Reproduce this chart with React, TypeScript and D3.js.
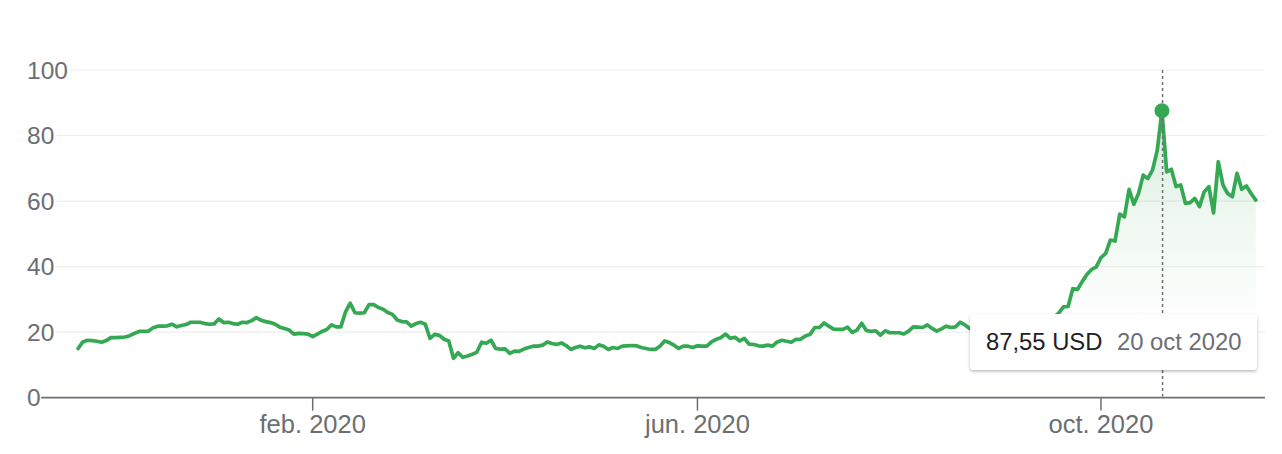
import React from "react";
import * as d3 from "d3";

// ---- data ----
const startDay = "2019-11-19";
const endDay = "2020-11-17";
const marketHolidays = [
  "2019-11-28", "2019-12-25", "2020-01-01", "2020-01-20", "2020-02-17",
  "2020-04-10", "2020-05-25", "2020-07-03", "2020-09-07",
];

const closePrices = [
  15.0, 17.0, 17.5, 17.4, 17.2, 16.9, 17.4, 18.3, 18.3, 18.4,
  18.5, 18.9, 19.6, 20.2, 20.2, 20.3, 21.3, 21.8, 21.8, 21.9,
  22.4, 21.6, 22.0, 22.3, 23.0, 23.0, 23.0, 22.6, 22.4, 22.5,
  24.0, 22.9, 23.0, 22.6, 22.4, 23.0, 22.9, 23.5, 24.4, 23.6,
  23.2, 22.9, 22.4, 21.5, 21.1, 20.6, 19.4, 19.6, 19.5, 19.4,
  18.6, 19.4, 20.2, 20.8, 22.2, 21.6, 21.6, 26.2, 28.8, 25.9,
  25.8, 25.9, 28.4, 28.4, 27.5, 27.0, 26.0, 25.4, 23.7, 23.2,
  23.1, 21.8, 22.6, 23.0, 22.4, 18.1, 19.3, 19.0, 17.8, 17.3,
  12.0, 13.7, 12.3, 12.7, 13.2, 13.9, 16.9, 16.6, 17.5, 15.0,
  14.8, 14.9, 13.5, 14.2, 14.1, 14.8, 15.3, 15.7, 15.7, 16.0,
  17.0, 16.5, 16.2, 16.7, 15.9, 14.7, 15.3, 15.7, 15.2, 15.5,
  15.0, 16.1, 15.7, 14.7, 15.3, 15.0, 15.7, 15.8, 15.9, 15.8,
  15.3, 15.0, 14.7, 14.7, 15.7, 17.3, 16.8, 16.0, 15.0, 15.7,
  15.7, 15.3, 15.8, 15.7, 15.7, 17.0, 17.8, 18.3, 19.4, 18.1,
  18.4, 17.3, 18.1, 16.3, 16.2, 15.8, 15.7, 16.0, 15.7, 17.0,
  17.5, 17.2, 16.9, 17.8, 17.8, 18.8, 19.3, 21.4, 21.4, 22.8,
  21.8, 20.9, 20.8, 20.8, 21.5, 19.9, 20.6, 22.7, 20.5, 20.2,
  20.4, 19.1, 20.4, 19.8, 19.8, 19.8, 19.4, 20.3, 21.6, 21.5,
  21.4, 22.2, 21.1, 20.3, 21.0, 21.8, 21.4, 21.6, 23.0, 22.2,
  21.1, 21.5, 22.0, 21.3, 21.8, 22.4, 21.9, 22.6, 23.1, 22.5,
  22.8, 23.4, 22.9, 23.6, 22.8, 22.4, 23.0, 23.8, 24.6, 25.8,
  27.7, 27.8, 33.3, 33.0, 35.4, 37.6, 39.1, 39.9, 42.7, 44.0,
  48.1, 47.8, 56.0, 55.2, 63.6, 59.0, 62.3, 67.9, 66.9, 69.5,
  75.5, 87.55, 68.9, 69.7, 64.4, 64.9, 59.3, 59.5, 60.8, 58.3,
  62.8, 64.4, 56.4, 72.0, 64.9, 62.3, 61.3, 68.5, 63.6, 64.6,
  62.3, 60.3,
];

const yTicks = [0, 20, 40, 60, 80, 100];
const xTickDates = ["2020-02-03", "2020-06-01", "2020-10-01"];
const xTickLabels = ["feb. 2020", "jun. 2020", "oct. 2020"];
const currency = "USD";
const tooltipDateLabel = "20 oct 2020";

// ---- layout / style ----
const W = 1282;
const H = 454;
const GREEN = "#34a853";
const GREY = "#6b6f74";
const FONT = "Arial, 'Liberation Sans', Helvetica, sans-serif";
const fmtDay = d3.utcFormat("%Y-%m-%d");

export default function App() {
  const days = d3.utcDay
    .range(new Date(startDay + "T00:00:00Z"), d3.utcDay.offset(new Date(endDay + "T00:00:00Z"), 1))
    .filter((d) => d.getUTCDay() !== 0 && d.getUTCDay() !== 6 && !marketHolidays.includes(fmtDay(d)))
    .map(fmtDay);

  const x = d3.scaleLinear().domain([0, days.length - 1]).range([78.1, 1255.8]);
  const y = d3.scaleLinear().domain([0, 100]).range([397.6, 70]);

  const line = d3
    .line<number>()
    .x((_, i) => x(i))
    .y((d) => y(d));
  const area = d3
    .area<number>()
    .x((_, i) => x(i))
    .y0(y(0))
    .y1((d) => y(d));

  const peakIndex = d3.maxIndex(closePrices);
  const peakValue = closePrices[peakIndex];
  const peakX = x(peakIndex);
  const peakY = y(peakValue);
  const valueLabel = d3.format(".2f")(peakValue).replace(".", ",") + " " + currency;

  const labelLeft = 27;
  const yFont = 24.5;
  const digitW = yFont * 0.556;
  const gridRight = 1265;

  return (
    <svg
      width={W}
      height={H}
      style={{ position: "absolute", left: 0, top: 0, background: "#fff" }}
      fontFamily={FONT}
    >
      <defs>
        <linearGradient id="areaFill" gradientUnits="userSpaceOnUse" x1="0" y1={y(88)} x2="0" y2={y(22)}>
          <stop offset="0" stopColor={GREEN} stopOpacity={0.22} />
          <stop offset="0.5" stopColor={GREEN} stopOpacity={0.08} />
          <stop offset="1" stopColor={GREEN} stopOpacity={0} />
        </linearGradient>
        <filter id="tipShadow" x="-10%" y="-30%" width="120%" height="170%">
          <feDropShadow dx="0" dy="1.5" stdDeviation="1.6" floodColor="#000" floodOpacity="0.28" />
        </filter>
      </defs>

      {/* grid lines + y labels */}
      {yTicks.map((t) => {
        const txtW = String(t).length * digitW;
        return (
          <g key={t}>
            {t !== 0 && (
              <line
                x1={labelLeft + txtW + 2}
                x2={gridRight}
                y1={y(t)}
                y2={y(t)}
                stroke="#eeeeee"
                strokeWidth={1.2}
              />
            )}
            <text x={labelLeft} y={y(t)} dy="0.36em" fontSize={yFont} fill={GREY}>
              {t}
            </text>
          </g>
        );
      })}

      {/* area + line */}
      <path d={area(closePrices) || ""} fill="url(#areaFill)" />
      <path
        d={line(closePrices) || ""}
        fill="none"
        stroke={GREEN}
        strokeWidth={3.7}
        strokeLinejoin="round"
        strokeLinecap="round"
      />

      {/* baseline axis */}
      <line x1={labelLeft + digitW + 0.5} x2={gridRight} y1={y(0)} y2={y(0)} stroke={GREY} strokeWidth={1.8} />

      {/* x ticks */}
      {xTickDates.map((dStr, k) => {
        const idx = days.indexOf(dStr);
        const xx = x(idx);
        return (
          <g key={dStr}>
            <line x1={xx} x2={xx} y1={y(0)} y2={y(0) + 13} stroke={GREY} strokeWidth={1.5} />
            <text x={xx} y={433} textAnchor="middle" fontSize={25.5} fill={GREY}>
              {xTickLabels[k]}
            </text>
          </g>
        );
      })}

      {/* hover guide */}
      <line
        x1={peakX + 0.6}
        x2={peakX + 0.6}
        y1={y(100)}
        y2={y(0) - 1}
        stroke={GREY}
        strokeWidth={1.5}
        strokeDasharray="3,3"
      />
      <circle cx={peakX} cy={peakY} r={7.5} fill={GREEN} />

      {/* tooltip */}
      <g>
        <rect x={970} y={314} width={287} height={56} rx={4} fill="#fff" filter="url(#tipShadow)" />
        <text x={986} y={350} fontSize={23.8} fill="#202124">
          {valueLabel}
        </text>
        <text x={1117} y={350} fontSize={23.8} fill={GREY}>
          {tooltipDateLabel}
        </text>
      </g>
    </svg>
  );
}
